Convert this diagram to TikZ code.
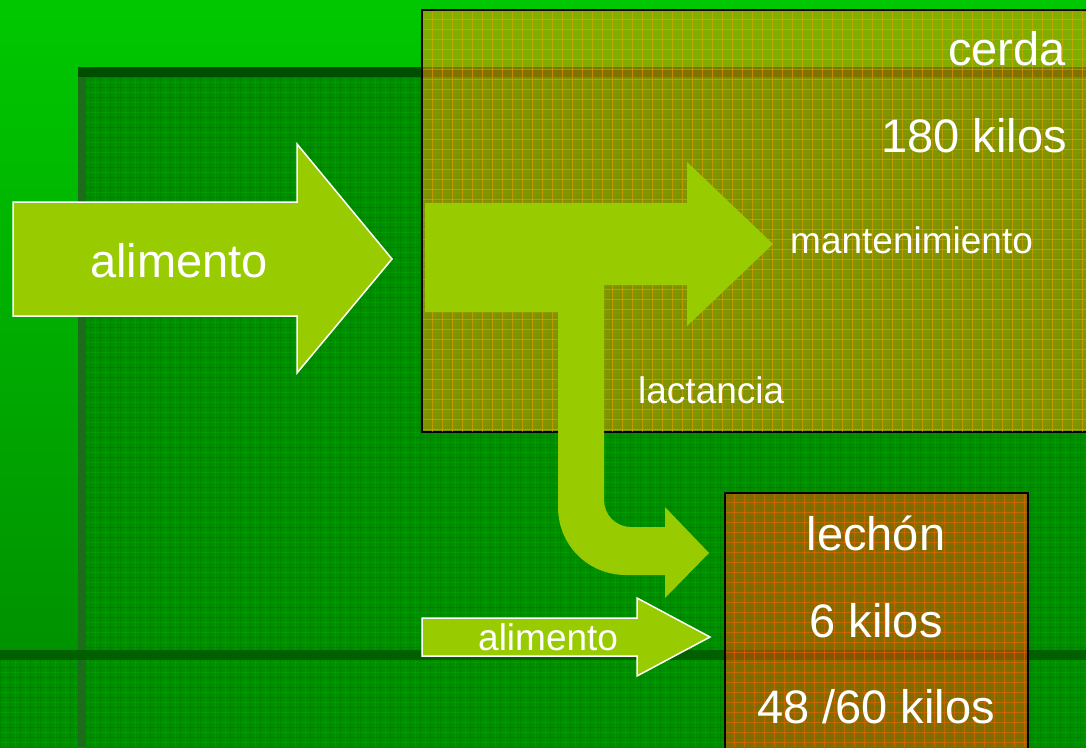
\documentclass[tikz,border=0pt]{standalone}
\usepackage{fontspec}
\setmainfont{Liberation Sans}
\usepackage{xcolor}
\definecolor{bgtop}{HTML}{00C800}
\definecolor{bgbottom}{HTML}{008A00}
\definecolor{framedark}{HTML}{004E00}
\definecolor{frameside}{HTML}{1C6C1C}
\definecolor{panelgreen}{HTML}{008E00}
\definecolor{texgreen}{HTML}{006E00}
\definecolor{arrowgreen}{HTML}{99CC00}
\definecolor{sowfill}{HTML}{FF9900}
\definecolor{sowgrid}{HTML}{FFA000}
\definecolor{pigletfill}{HTML}{FF5000}
\definecolor{pigletgrid}{HTML}{FF6000}

\begin{document}
\begin{tikzpicture}[x=1pt,y=-1pt,
    bigtext/.style={text=white,inner sep=0pt,font=\fontsize{47}{56}\selectfont},
    smalltext/.style={text=white,inner sep=0pt,font=\fontsize{37}{44}\selectfont},
    blockarrow/.style={fill=arrowgreen,draw=white,line width=1.5pt,line join=miter},
    flowarrow/.style={fill=arrowgreen},
    boxframe/.style={draw=black,line width=1.5pt,fill opacity=0.5}]
    \clip (0,0) rectangle (1086,747);

    % Background
    \fill[top color=bgtop,bottom color=bgbottom] (0,0) rectangle (1086,747);
    \fill[framedark] (78,67) rectangle (1086,77);
    \fill[frameside] (78,77) rectangle (86,747);
    \fill[panelgreen] (86,77) rectangle (1086,747);
    \fill[panelgreen] (0,660) rectangle (78,747);
    \begin{scope}
        \clip (86,77) rectangle (1086,747) (0,660) rectangle (78,747);
        \foreach \x in {0,10,...,1080} {
            \draw[texgreen,line width=1pt,opacity=0.35] (\x,60) -- (\x,747);
            \draw[bgtop,line width=0.6pt,opacity=0.2] (\x+5,60) -- (\x+5,747);
        }
        \foreach \y in {77,87,...,747} {
            \draw[texgreen,line width=1pt,opacity=0.35] (0,\y) -- (1086,\y);
            \draw[bgtop,line width=0.6pt,opacity=0.2] (0,\y+5) -- (1086,\y+5);
        }
    \end{scope}
    \fill[framedark!90!green] (0,650) rectangle (1086,660);
    \fill[frameside] (78,660) rectangle (86,747);

    % Sow box
    \filldraw[boxframe,fill=sowfill] (422,10) rectangle (1095,432);
    \begin{scope}
        \clip (423,11) rectangle (1086,431);
        \foreach \x in {432,442,...,1086}
            \draw[sowgrid,line width=0.8pt,opacity=0.5] (\x,10) -- (\x,432);
        \foreach \y in {19,29,...,432}
            \draw[sowgrid,line width=0.8pt,opacity=0.5] (422,\y) -- (1086,\y);
    \end{scope}

    % Piglet box
    \filldraw[boxframe,fill=pigletfill] (725,493) rectangle (1028,760);
    \begin{scope}
        \clip (726,494) rectangle (1027,747);
        \foreach \x in {734,744,...,1028}
            \draw[pigletgrid,line width=0.8pt,opacity=0.5] (\x,493) -- (\x,747);
        \foreach \y in {502,512,...,747}
            \draw[pigletgrid,line width=0.8pt,opacity=0.5] (725,\y) -- (1028,\y);
    \end{scope}

    % Feed into the sow
    \filldraw[blockarrow] (13,202) -- (297,202) -- (297,144) -- (392,259)
        -- (297,373) -- (297,316) -- (13,316) -- cycle;

    % Maintenance and lactation flow
    \fill[flowarrow] (425,203) -- (687,203) -- (687,162) -- (773,244)
        -- (687,326) -- (687,285) -- (604,285) -- (604,500)
        .. controls (604,515) and (616,527) .. (631,527)
        -- (665,527) -- (665,507) -- (709,553) -- (665,598) -- (665,575)
        -- (626,575) .. controls (588,575) and (558,545) .. (558,507)
        -- (558,312) -- (425,312) -- cycle;

    % Feed into the piglet
    \filldraw[blockarrow] (422,618) -- (637,618) -- (637,598) -- (710,637)
        -- (637,676) -- (637,656) -- (422,656) -- cycle;

    % Labels
    \node[bigtext,anchor=base west] (feedsow) at (90,277) {alimento};
    \node[bigtext,anchor=base east] (sow) at (1066,65) {cerda};
    \node[bigtext,anchor=base east] (sowweight) at (1067,152) {180 kilos};
    \node[smalltext,anchor=base west] (upkeep) at (790,253) {mantenimiento};
    \node[smalltext,anchor=base west] (milk) at (638,403) {lactancia};
    \node[smalltext,anchor=base west] (feedpiglet) at (478,650) {alimento};
    \node[bigtext,anchor=base] (piglet) at (876,550) {lechón};
    \node[bigtext,anchor=base] (birthweight) at (876,637) {6 kilos};
    \node[bigtext,anchor=base] (weanweight) at (876,723) {48 /60 kilos};
\end{tikzpicture}
\end{document}
